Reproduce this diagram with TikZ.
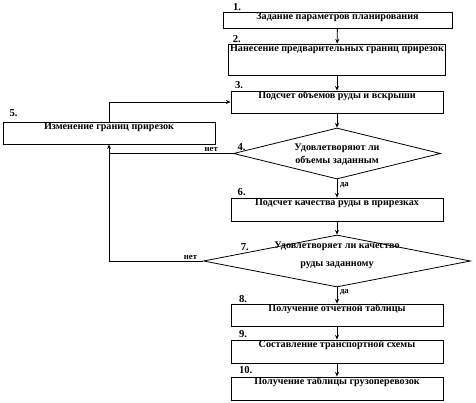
\documentclass[tikz,border=0pt]{standalone}
\usepackage{fontspec}
\setmainfont{Liberation Serif}
\usetikzlibrary{arrows.meta, shapes.geometric, positioning}

\begin{document}
\begin{tikzpicture}[x=0.75pt, y=-0.75pt, >={Stealth[length=3.5pt, width=3pt]}, line width=0.6pt,
  box/.style={draw, rectangle, minimum width=159pt, inner xsep=1pt, inner ysep=0pt, text height=6pt,
    font=\fontsize{7.6}{9}\selectfont\bfseries},
  dia/.style={draw, diamond, inner sep=0pt},
  diatext/.style={align=center, inner sep=0pt, font=\fontsize{7.6}{#1}\selectfont\bfseries},
  num/.style={anchor=base west, inner sep=0pt, font=\fontsize{8}{9}\selectfont\bfseries},
  ans/.style={inner sep=0pt, font=\fontsize{6.5}{7}\selectfont\bfseries}]
  \useasboundingbox (0,0) rectangle (476,403);

  % blocks
  \node[box, minimum width=171.75pt, text depth=6pt] (b1) at (337.5,20) {Задание параметров планирования};
  \node[box, text depth=17.25pt] (b2) at (337,59.5) {Нанесение предварительных границ прирезок};
  \node[box, text depth=10.5pt] (b3) at (337,102) {Подсчет объемов руды и вскрыши};
  \node[dia, minimum width=155.25pt, minimum height=38.25pt] (d4) at (337,153.5) {};
  \node[diatext=9.75pt] (t4) at (337,154.5) {Удовлетворяют ли\\объемы заданным};
  \node[box, text depth=10.5pt] (b5) at (109,133) {Изменение границ прирезок};
  \node[box, text depth=11.25pt] (b6) at (337,209.5) {Подсчет качества руды в прирезках};
  \node[dia, minimum width=200.25pt, minimum height=39pt] (d7) at (337,261) {};
  \node[diatext=13.5pt] (t7) at (337,255) {Удовлетворяет ли качество\\руды заданному};
  \node[box, text depth=10.5pt] (b8) at (337,315) {Получение отчетной таблицы};
  \node[box, text depth=11.25pt] (b9) at (337,351.5) {Составление транспортной схемы};
  \node[box, text depth=11.25pt] (b10) at (337,388.5) {Получение таблицы грузоперевозок};

  % numbers
  \node[num] (n1) at ([xshift=7.5pt, yshift=0.5pt]b1.north west) {1.};
  \node[num] (n2) at ([xshift=3pt, yshift=0.75pt]b2.north west) {2.};
  \node[num] (n3) at ([xshift=3pt, yshift=1.5pt]b3.north west) {3.};
  \node[num] (n4) at ([xshift=3pt, yshift=2.5pt]d4.west) {4.};
  \node[num] (n5) at ([xshift=5pt, yshift=3.75pt]b5.north west) {5.};
  \node[num] (n6) at ([xshift=5pt, yshift=1.5pt]b6.north west) {6.};
  \node[num] (n7) at ([xshift=28pt, yshift=7.5pt]d7.west) {7.};
  \node[num] (n8) at ([xshift=6pt, yshift=1pt]b8.north west) {8.};
  \node[num] (n9) at ([xshift=6pt, yshift=1.5pt]b9.north west) {9.};
  \node[num] (n10) at ([xshift=6pt, yshift=2.25pt]b10.north west) {10.};

  % connectors
  \draw[->] (b1) -- (b2);
  \draw[->] (b2) -- (b3);
  \draw[->] (b3) -- (d4);
  \draw[->] (d4) -- node[ans, pos=0.3, right=2pt] (y4) {да} (b6);
  \draw[->] (b6) -- (d7);
  \draw[->] (d7) -- node[ans, pos=0.3, right=2pt] (y7) {да} (b8);
  \draw[->] (b8) -- (b9);
  \draw[->] (b9) -- (b10);
  \draw[->] (d4.west) -| node[ans, pos=0.06, anchor=south east, yshift=1pt] (no4) {нет} (b5.south);
  \draw (d7.west) -| node[ans, pos=0.03, anchor=south east, yshift=0.5pt] (no7) {нет} (b5.south |- d4.west);
  \draw[->] (b5.north) |- (b3.west);
\end{tikzpicture}
\end{document}
